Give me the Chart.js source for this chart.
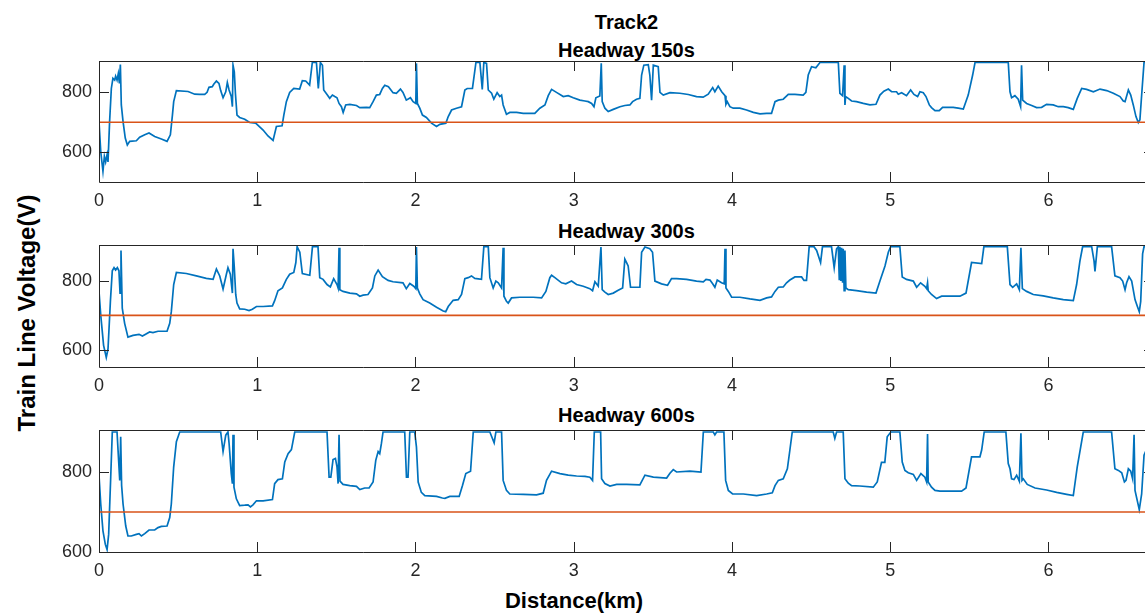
<!DOCTYPE html>
<html><head><meta charset="utf-8">
<script src="https://cdn.jsdelivr.net/npm/chart.js@4.4.1/dist/chart.umd.min.js"></script>
<style>
html,body{margin:0;padding:0;background:#fff;overflow:hidden;width:1145px;height:614px;position:relative;}
canvas{position:absolute;left:0;}
.t{position:absolute;font-family:"Liberation Sans",Arial,Helvetica,sans-serif;font-weight:bold;color:#000;white-space:nowrap;text-align:center;}
</style></head><body>
<div class="t" style="left:426.5px;width:400px;top:12px;font-size:20px;line-height:20px;">Track2</div>
<div class="t" style="left:426.5px;width:400px;top:40px;font-size:20px;line-height:20px;">Headway 150s</div>
<div class="t" style="left:426.5px;width:400px;top:221px;font-size:20px;line-height:20px;">Headway 300s</div>
<div class="t" style="left:426.5px;width:400px;top:405px;font-size:20px;line-height:20px;">Headway 600s</div>
<div class="t" style="left:374px;width:400px;top:590px;font-size:22px;line-height:22px;">Distance(km)</div>
<div class="t" style="left:-173px;width:400px;top:301px;font-size:24px;line-height:24px;transform:rotate(-90deg);">Train Line Voltage(V)</div>
<canvas id="c1" width="1160" height="156" style="top:56px"></canvas>
<canvas id="c2" width="1160" height="157" style="top:240px"></canvas>
<canvas id="c3" width="1160" height="157" style="top:425px"></canvas>
<script>
const xTicks = [0,1,2,3,4,5,6];
const yTicks = [600,800];
const limitV = 700;
const xMax = 6.667;

const dist150 = [0,0.011,0.025,0.034,0.042,0.051,0.057,0.067,0.078,0.088,0.099,0.105,0.114,0.122,0.129,0.135,0.141,0.152,0.166,0.179,0.194,0.236,0.257,0.289,0.316,0.352,0.394,0.430,0.451,0.464,0.472,0.489,0.563,0.605,0.636,0.668,0.683,0.695,0.716,0.725,0.742,0.758,0.769,0.784,0.801,0.811,0.822,0.836,0.843,0.847,0.855,0.862,0.872,0.889,0.921,0.952,0.990,1.037,1.068,1.100,1.121,1.157,1.168,1.184,1.205,1.231,1.268,1.285,1.306,1.331,1.348,1.374,1.386,1.399,1.412,1.420,1.441,1.458,1.475,1.490,1.504,1.517,1.532,1.543,1.559,1.585,1.627,1.648,1.690,1.711,1.732,1.753,1.774,1.791,1.806,1.829,1.858,1.879,1.905,1.921,1.942,1.968,1.985,2.002,2.006,2.012,2.027,2.044,2.069,2.101,2.133,2.154,2.192,2.207,2.228,2.259,2.291,2.312,2.327,2.360,2.382,2.407,2.422,2.432,2.449,2.460,2.481,2.495,2.516,2.533,2.544,2.554,2.575,2.596,2.639,2.681,2.723,2.754,2.786,2.818,2.839,2.860,2.891,2.934,2.965,2.997,3.039,3.071,3.092,3.113,3.128,3.140,3.165,3.174,3.180,3.197,3.218,3.250,3.292,3.323,3.355,3.372,3.397,3.418,3.429,3.443,3.471,3.481,3.492,3.503,3.534,3.545,3.566,3.608,3.671,3.724,3.776,3.818,3.850,3.878,3.892,3.913,3.935,3.956,3.962,3.970,3.987,4.008,4.050,4.092,4.135,4.177,4.219,4.250,4.272,4.293,4.324,4.356,4.398,4.450,4.467,4.482,4.503,4.530,4.556,4.672,4.682,4.699,4.709,4.714,4.718,4.735,4.756,4.787,4.830,4.872,4.910,4.935,4.960,4.988,5.009,5.040,5.051,5.072,5.103,5.129,5.150,5.173,5.188,5.209,5.226,5.247,5.261,5.283,5.310,5.331,5.356,5.398,5.430,5.462,5.493,5.521,5.536,5.746,5.757,5.767,5.788,5.809,5.824,5.830,5.837,5.862,5.894,5.925,5.957,5.988,6.030,6.062,6.094,6.125,6.157,6.182,6.210,6.241,6.284,6.326,6.368,6.410,6.452,6.473,6.484,6.505,6.520,6.536,6.553,6.568,6.578,6.589,6.604,6.667];
const volt150 = [702,602,536,586,567,591,567,702,813,847,841,854,841,863,830,893,758,702,647,624,636,638,650,658,664,652,644,636,658,724,769,806,803,794,793,793,800,817,819,827,838,830,806,782,802,833,808,786,752,891,869,797,724,716,710,699,697,674,654,639,686,688,724,769,800,813,811,839,838,824,900,900,813,900,891,808,793,780,791,786,782,763,752,733,758,760,756,749,750,749,769,791,793,813,824,819,799,797,811,800,774,782,769,763,897,763,747,724,716,697,686,693,697,719,741,747,752,808,813,813,900,900,810,900,897,808,797,777,799,786,791,758,727,733,733,730,730,730,747,758,789,810,800,786,789,782,774,771,769,763,752,782,788,897,769,747,736,743,752,756,758,769,777,780,858,891,893,858,774,891,886,800,791,799,797,793,786,784,794,816,802,821,802,789,760,769,752,747,747,741,733,728,730,730,769,774,777,793,793,791,800,858,886,882,900,900,797,789,891,758,786,780,771,769,763,758,760,791,804,811,802,802,794,799,789,808,793,786,802,799,786,758,749,739,739,750,750,750,747,744,791,858,900,900,802,782,789,777,752,891,774,763,756,749,750,760,758,752,752,749,743,780,813,810,802,811,806,797,786,771,769,808,791,758,719,699,708,791,900,900];

const dist300 = [0,0.011,0.029,0.046,0.057,0.072,0.084,0.095,0.105,0.116,0.126,0.133,0.139,0.147,0.162,0.183,0.215,0.253,0.274,0.289,0.320,0.341,0.373,0.430,0.447,0.457,0.472,0.489,0.552,0.615,0.678,0.721,0.742,0.763,0.784,0.805,0.815,0.830,0.843,0.847,0.855,0.864,0.872,0.889,0.921,0.948,0.969,0.995,1.037,1.096,1.110,1.131,1.159,1.184,1.205,1.231,1.244,1.252,1.269,1.285,1.332,1.349,1.384,1.395,1.416,1.441,1.462,1.483,1.504,1.511,1.517,1.522,1.542,1.585,1.627,1.648,1.669,1.700,1.728,1.743,1.764,1.791,1.827,1.858,1.921,1.942,1.964,1.989,2.002,2.006,2.012,2.027,2.048,2.090,2.133,2.175,2.191,2.207,2.238,2.270,2.291,2.312,2.333,2.354,2.375,2.417,2.432,2.460,2.470,2.491,2.508,2.523,2.544,2.554,2.559,2.575,2.586,2.607,2.660,2.744,2.797,2.824,2.849,2.860,2.881,2.923,2.950,2.986,3.018,3.060,3.102,3.119,3.134,3.155,3.172,3.180,3.197,3.218,3.250,3.281,3.309,3.323,3.334,3.344,3.359,3.418,3.429,3.450,3.481,3.498,3.513,3.555,3.593,3.618,3.650,3.713,3.776,3.819,3.836,3.861,3.878,3.892,3.907,3.934,3.951,3.956,3.962,3.977,3.998,4.050,4.114,4.177,4.219,4.250,4.272,4.293,4.324,4.345,4.366,4.398,4.440,4.455,4.471,4.488,4.518,4.535,4.560,4.572,4.629,4.646,4.661,4.672,4.678,4.682,4.688,4.693,4.699,4.703,4.709,4.714,4.720,4.735,4.787,4.851,4.910,4.935,4.967,4.988,5.003,5.061,5.076,5.103,5.146,5.167,5.192,5.219,5.230,5.236,5.240,5.261,5.293,5.325,5.441,5.479,5.514,5.578,5.592,5.740,5.757,5.774,5.799,5.816,5.826,5.835,5.862,5.904,5.967,6.030,6.094,6.157,6.178,6.199,6.216,6.273,6.288,6.294,6.309,6.399,6.420,6.452,6.469,6.484,6.494,6.509,6.526,6.547,6.562,6.574,6.583,6.595,6.604,6.667];
const volt300 = [770,701,613,578,603,741,830,839,832,839,830,765,889,721,677,637,642,645,640,644,652,650,654,654,677,711,790,825,822,815,808,805,835,815,777,820,839,820,765,894,839,761,736,719,718,714,718,726,726,728,743,772,780,805,820,825,854,900,884,822,817,900,900,810,805,790,783,807,790,780,897,775,770,765,763,756,759,761,780,815,832,813,802,798,795,778,793,785,778,899,780,763,746,736,724,713,711,726,744,746,761,807,810,815,808,805,900,900,810,780,800,795,780,897,756,741,736,751,753,753,751,770,810,817,810,795,792,800,790,785,778,772,798,785,899,775,768,761,765,773,780,864,854,844,782,782,884,899,894,884,800,792,788,807,807,805,800,798,805,803,792,782,803,795,792,894,780,770,753,753,748,744,751,754,770,782,783,795,803,812,812,802,802,900,900,889,854,900,900,839,894,900,805,900,800,897,795,894,772,889,780,775,772,768,765,800,844,884,900,900,812,805,800,782,795,785,778,795,772,761,749,756,756,765,854,851,900,900,790,782,792,775,897,778,770,761,757,751,746,743,790,859,900,900,859,828,900,900,815,810,800,775,795,813,800,746,726,711,741,879,900,900];

const dist600 = [0,0.011,0.025,0.040,0.051,0.061,0.074,0.084,0.114,0.124,0.131,0.137,0.143,0.152,0.169,0.183,0.204,0.236,0.253,0.268,0.289,0.316,0.352,0.373,0.394,0.430,0.447,0.457,0.472,0.489,0.510,0.769,0.784,0.801,0.815,0.822,0.836,0.843,0.847,0.853,0.868,0.889,0.921,0.942,0.957,0.973,0.995,1.037,1.096,1.110,1.131,1.159,1.174,1.195,1.216,1.237,1.441,1.454,1.465,1.479,1.494,1.504,1.511,1.517,1.523,1.542,1.585,1.627,1.648,1.679,1.707,1.732,1.749,1.764,1.774,1.785,1.795,1.932,1.943,1.953,1.964,1.995,2.006,2.017,2.037,2.059,2.133,2.170,2.186,2.217,2.276,2.297,2.318,2.348,2.365,2.470,2.497,2.508,2.544,2.554,2.575,2.596,2.681,2.765,2.807,2.828,2.860,2.913,2.965,3.018,3.071,3.102,3.119,3.130,3.170,3.176,3.197,3.229,3.271,3.334,3.418,3.450,3.503,3.587,3.608,3.629,3.650,3.734,3.804,3.819,3.882,3.892,3.903,3.949,3.960,3.977,4.004,4.072,4.156,4.219,4.255,4.272,4.293,4.324,4.350,4.366,4.381,4.640,4.650,4.661,4.703,4.714,4.735,4.756,4.808,4.893,4.918,4.945,4.966,4.981,5.004,5.061,5.076,5.093,5.114,5.146,5.167,5.194,5.219,5.230,5.236,5.240,5.261,5.283,5.314,5.451,5.479,5.514,5.567,5.578,5.594,5.731,5.746,5.757,5.767,5.782,5.799,5.816,5.826,5.833,5.841,5.866,5.915,5.988,6.052,6.115,6.157,6.182,6.220,6.399,6.420,6.442,6.463,6.480,6.490,6.505,6.520,6.532,6.541,6.547,6.574,6.589,6.604,6.667];
const volt600 = [792,720,653,619,606,644,787,900,900,829,779,888,766,720,665,640,640,644,646,640,646,655,655,661,664,665,686,720,813,876,900,900,851,892,900,872,796,771,893,762,733,716,717,718,713,718,728,728,731,771,781,783,825,846,856,900,900,787,787,831,834,813,771,893,777,769,766,764,756,760,760,775,829,851,846,872,900,900,787,787,900,900,863,775,749,741,739,735,734,739,739,766,796,802,900,900,873,900,900,779,754,745,744,743,747,779,802,796,792,790,789,787,779,900,900,783,771,765,769,769,768,792,787,785,797,806,800,802,800,900,900,893,900,900,779,754,745,745,741,745,748,766,779,783,808,855,900,900,884,900,900,783,772,766,765,762,775,824,824,888,900,900,825,804,798,794,779,796,787,775,895,775,762,754,752,752,760,838,838,855,900,900,821,808,783,781,792,777,897,779,783,769,760,755,749,744,741,813,900,900,808,804,798,775,779,808,802,783,893,754,706,745,842,900];

function pts(xs, ys){ return xs.map((x,i)=>({x:x, y:ys[i]})); }

const boxPlugin = {
  id:'box',
  afterDatasetsDraw(chart){
    const {ctx, chartArea:a, scales:{x, y}} = chart;
    ctx.save();
    ctx.strokeStyle = '#262626';
    ctx.lineWidth = 1;
    ctx.beginPath();
    ctx.rect(Math.round(a.left)+0.5, Math.round(a.top)+0.5, Math.round(a.right-a.left), Math.round(a.bottom-a.top));
    ctx.stroke();
    ctx.beginPath();
    x.ticks.forEach(t=>{
      const px = Math.round(x.getPixelForValue(t.value))+0.5;
      ctx.moveTo(px, a.bottom); ctx.lineTo(px, a.bottom-10);
      ctx.moveTo(px, a.top); ctx.lineTo(px, a.top+10);
    });
    y.ticks.forEach(t=>{
      const py = Math.round(y.getPixelForValue(t.value))+0.5;
      ctx.moveTo(a.left, py); ctx.lineTo(a.left+10, py);
      ctx.moveTo(a.right, py); ctx.lineTo(a.right-10, py);
    });
    ctx.stroke();
    ctx.restore();
  }
};

const tickFont = {family:'"Liberation Sans", Arial, Helvetica, sans-serif', size:18};
function noPad(s){ s.paddingTop = 0; s.paddingBottom = 0; s.paddingLeft = 0; s.paddingRight = 0; }

function makeChart(id, xs, ys, yMin, yMax){
  return new Chart(document.getElementById(id), {
    type:'line',
    data:{datasets:[
      {data:[{x:0,y:limitV},{x:xMax,y:limitV}], borderColor:'#D95319', borderWidth:1.7, pointRadius:0, order:0},
      {data:pts(xs, ys), borderColor:'#0072BD', borderWidth:1.7, pointRadius:0, tension:0, order:1}
    ]},
    options:{
      responsive:false, animation:false, events:[],
      layout:{padding:{left:0, right:6, top:5, bottom:0}},
      plugins:{legend:{display:false}, tooltip:{enabled:false}, title:{display:false}},
      scales:{
        x:{type:'linear', min:0, max:xMax,
           grid:{display:false, drawTicks:false}, border:{display:false},
           afterBuildTicks:s=>{ s.ticks = xTicks.map(v=>({value:v})); },
           afterFit:s=>{ s.height = 30; noPad(s); },
           ticks:{color:'#262626', font:tickFont, padding:8, maxRotation:0, autoSkip:false, callback:v=>String(v)}},
        y:{type:'linear', min:yMin, max:yMax,
           grid:{display:false, drawTicks:false}, border:{display:false},
           afterBuildTicks:s=>{ s.ticks = yTicks.map(v=>({value:v})); },
           afterFit:s=>{ s.width = 99; noPad(s); },
           ticks:{color:'#262626', font:tickFont, padding:7, callback:v=>String(v)}}
      }
    },
    plugins:[boxPlugin]
  });
}

makeChart('c1', dist150, volt150, 500, 905);
makeChart('c2', dist300, volt300, 550, 905);
makeChart('c3', dist600, volt600, 600, 905);
</script>
</body></html>
